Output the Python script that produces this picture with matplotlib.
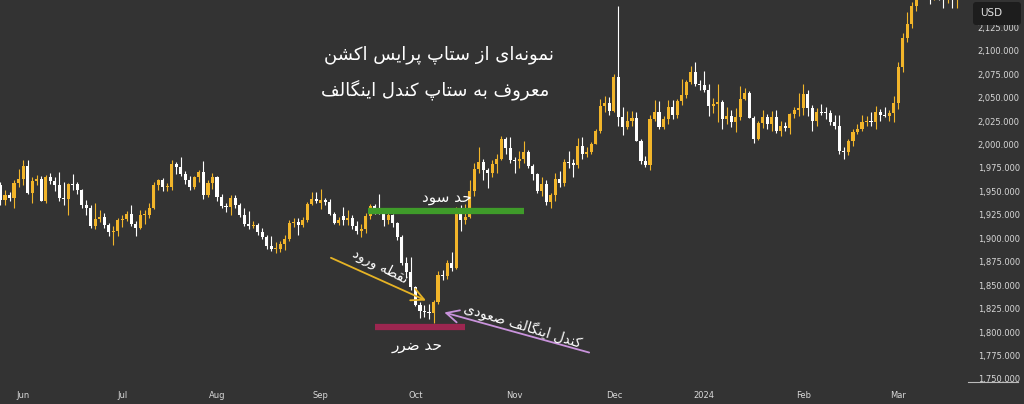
import numpy as np
import pandas as pd
import matplotlib
matplotlib.use('Agg')
import matplotlib.pyplot as plt
from matplotlib.ticker import FuncFormatter
from matplotlib.patches import FancyBboxPatch
from matplotlib.transforms import IdentityTransform
from matplotlib.lines import Line2D

# daily gold candles, 25 May 2023 .. 20 Mar 2024
dates = pd.bdate_range('2023-05-25', '2024-03-20')
dates = dates.drop([pd.Timestamp('2023-12-25'), pd.Timestamp('2024-01-01')])

opens = [
    1957, 1941, 1946, 1943, 1959, 1963, 1977, 1948, 1961, 1963, 1940, 1965, 1961, 1957, 1943, 1942, 1958, 1958, 1951, 1936, 1932, 1913, 1921, 1923, 1914, 1907, 1908,
    1919, 1921, 1926, 1915, 1911, 1925, 1925, 1932, 1957, 1962, 1955, 1955, 1979, 1976, 1969, 1962, 1955, 1965, 1971, 1946, 1959,
    1965, 1944, 1934, 1933, 1943, 1936, 1925, 1915, 1913, 1914, 1907, 1901, 1892, 1889, 1889, 1894, 1899, 1916, 1917, 1914, 1920, 1937, 1942,
    1938, 1941, 1939, 1926, 1916, 1924, 1919, 1922, 1913, 1908, 1910, 1924, 1934, 1931, 1930, 1920, 1925, 1916, 1901, 1874, 1864,
    1848, 1829, 1822, 1821, 1820, 1832, 1861, 1860, 1874, 1868, 1932, 1919, 1923, 1950, 1974, 1981, 1973, 1970, 1979, 1985, 2006, 1996,
    1983, 1982, 1985, 1992, 1977, 1969, 1950, 1958, 1939, 1946, 1963, 1959, 1981, 1980, 1978, 1998, 1990, 1992, 2001, 2014, 2041, 2044,
    2036, 2072, 2029, 2019, 2025, 2028, 2004, 1982, 1978, 2027, 2035, 2019, 2027, 2040, 2031, 2046, 2053, 2067, 2077, 2065,
    2063, 2058, 2041, 2043, 2045, 2027, 2030, 2024, 2029, 2049, 2055, 2028, 2006, 2023, 2029, 2022, 2029, 2014, 2020, 2018, 2032, 2037,
    2039, 2054, 2039, 2025, 2035, 2035, 2034, 2024, 2020, 1993, 1992, 2004, 2013, 2017, 2024, 2025, 2024, 2035, 2031, 2030, 2034,
    2044, 2083, 2114, 2128, 2148, 2160, 2178, 2182, 2158, 2174, 2162, 2155, 2160, 2157,
]
highs = [
    1960, 1952, 1949, 1962, 1974, 1983, 1983, 1965, 1967, 1966, 1967, 1970, 1965, 1971, 1960, 1959, 1969, 1960, 1953, 1941, 1935, 1938, 1930, 1927, 1916, 1913, 1922,
    1925, 1929, 1935, 1918, 1930, 1930, 1938, 1960, 1963, 1964, 1959, 1983, 1981, 1987, 1972, 1966, 1966, 1973, 1982, 1962, 1970,
    1966, 1947, 1938, 1946, 1946, 1938, 1932, 1929, 1918, 1916, 1911, 1904, 1902, 1896, 1897, 1903, 1919, 1922, 1922, 1923, 1939, 1949, 1949,
    1953, 1943, 1942, 1928, 1923, 1933, 1930, 1925, 1918, 1915, 1927, 1937, 1937, 1947, 1932, 1930, 1926, 1917, 1903, 1880, 1880,
    1849, 1832, 1829, 1830, 1834, 1865, 1866, 1877, 1885, 1933, 1935, 1937, 1962, 1980, 1997, 1984, 1975, 1983, 1990, 2009, 2008, 2008,
    1987, 1993, 2004, 1994, 1979, 1970, 1965, 1962, 1948, 1970, 1972, 1985, 1993, 1985, 2007, 2008, 1997, 2003, 2017, 2048, 2052, 2051,
    2075, 2148, 2040, 2036, 2036, 2035, 2006, 1988, 2031, 2047, 2046, 2030, 2047, 2047, 2048, 2070, 2069, 2084, 2088, 2069,
    2078, 2065, 2050, 2064, 2047, 2040, 2037, 2039, 2062, 2060, 2057, 2030, 2025, 2037, 2033, 2036, 2037, 2025, 2024, 2034, 2040, 2055,
    2065, 2058, 2042, 2039, 2043, 2040, 2037, 2031, 2031, 1997, 2006, 2016, 2022, 2031, 2030, 2035, 2041, 2038, 2040, 2037, 2052,
    2088, 2119, 2141, 2152, 2165, 2195, 2189, 2185, 2177, 2175, 2168, 2164, 2163, 2188,
]
lows = [
    1936, 1936, 1940, 1932, 1955, 1957, 1947, 1938, 1957, 1940, 1938, 1958, 1950, 1940, 1936, 1925, 1952, 1947, 1932, 1925, 1911, 1910, 1917, 1911, 1902, 1893, 1902,
    1912, 1918, 1913, 1902, 1910, 1915, 1922, 1931, 1952, 1950, 1950, 1952, 1969, 1966, 1958, 1952, 1953, 1960, 1942, 1944, 1953,
    1940, 1932, 1928, 1925, 1932, 1923, 1913, 1910, 1911, 1903, 1899, 1889, 1886, 1884, 1885, 1888, 1897, 1912, 1904, 1912, 1917, 1935, 1938,
    1931, 1935, 1925, 1915, 1914, 1914, 1914, 1910, 1905, 1901, 1906, 1921, 1926, 1926, 1913, 1915, 1912, 1898, 1871, 1858, 1845,
    1828, 1815, 1816, 1814, 1810, 1830, 1856, 1857, 1865, 1867, 1908, 1915, 1922, 1945, 1970, 1962, 1954, 1965, 1970, 1983, 1990, 1980,
    1970, 1975, 1980, 1975, 1962, 1948, 1945, 1936, 1932, 1940, 1955, 1956, 1975, 1965, 1975, 1985, 1987, 1990, 2000, 2012, 2035, 2031,
    2035, 2020, 2010, 2016, 2020, 2004, 1979, 1976, 1973, 2025, 2017, 2016, 2022, 2027, 2028, 2042, 2050, 2065, 2062, 2058,
    2056, 2030, 2034, 2024, 2017, 2022, 2019, 2013, 2026, 2047, 2028, 2002, 2005, 2018, 2016, 2014, 2012, 2009, 2014, 2011, 2028, 2030,
    2031, 2030, 2014, 2020, 2031, 2027, 2021, 2016, 1990, 1984, 1989, 1998, 2011, 2014, 2020, 2020, 2016, 2025, 2029, 2025, 2024,
    2038, 2077, 2109, 2124, 2142, 2155, 2170, 2150, 2154, 2154, 2146, 2151, 2146, 2146,
]
closes = [
    1941, 1946, 1943, 1959, 1963, 1977, 1948, 1961, 1963, 1940, 1965, 1961, 1957, 1943, 1942, 1958, 1957, 1951, 1936, 1932, 1913, 1921, 1923, 1914, 1907, 1908, 1919,
    1921, 1926, 1915, 1911, 1925, 1925, 1932, 1957, 1962, 1955, 1955, 1979, 1976, 1969, 1962, 1955, 1965, 1971, 1946, 1959, 1965,
    1944, 1934, 1933, 1943, 1936, 1925, 1915, 1913, 1914, 1907, 1901, 1892, 1889, 1889, 1894, 1899, 1916, 1917, 1914, 1920, 1937, 1942, 1940,
    1941, 1939, 1926, 1916, 1919, 1919, 1922, 1913, 1908, 1910, 1924, 1934, 1931, 1930, 1920, 1925, 1916, 1901, 1874, 1864, 1848,
    1829, 1822, 1821, 1820, 1832, 1861, 1860, 1874, 1868, 1932, 1919, 1923, 1950, 1974, 1981, 1973, 1970, 1979, 1985, 2006, 1996, 1983,
    1982, 1985, 1992, 1977, 1969, 1950, 1958, 1939, 1946, 1963, 1959, 1981, 1980, 1978, 1998, 1990, 1992, 2001, 2014, 2041, 2044, 2036,
    2072, 2029, 2019, 2025, 2028, 2004, 1982, 1978, 2027, 2035, 2019, 2027, 2040, 2031, 2046, 2053, 2067, 2077, 2065, 2063,
    2058, 2041, 2043, 2045, 2027, 2030, 2024, 2029, 2049, 2055, 2028, 2006, 2023, 2029, 2022, 2029, 2014, 2020, 2018, 2032, 2037, 2039,
    2054, 2039, 2025, 2035, 2034, 2034, 2024, 2020, 1993, 1992, 2004, 2013, 2017, 2024, 2025, 2024, 2035, 2031, 2030, 2034, 2044,
    2083, 2114, 2128, 2148, 2160, 2178, 2182, 2158, 2174, 2162, 2155, 2160, 2157, 2186,
]

month_labels = ['Jun', 'Jul', 'Aug', 'Sep', 'Oct', 'Nov', 'Dec', '2024', 'Feb', 'Mar']
price_ticks = list(range(1750, 2126, 25))

# setup levels (price, first bar, last bar)
take_profit = (1929, 81.5, 116)
stop_loss = (1805.5, 83, 103)

title_1 = 'نمونه\u200cای از ستاپ پرایس اکشن'
title_2 = 'معروف به ستاپ کندل اینگالف'
tp_text = 'حد سود'
sl_text = 'حد ضرر'
entry_text = 'نقطه ورود'
engulf_text = 'کندل اینگالف صعودی'

BG = '#333333'
UP = '#f2b52a'
DOWN = '#ffffff'
TXT = '#d8d8d8'

# --- tiny persian shaper: matplotlib has no complex text layout ---
FORMS = {
    'ا': (0xFE8D, 0xFE8E), 'د': (0xFEA9, 0xFEAA), 'ر': (0xFEAD, 0xFEAE),
    'ز': (0xFEAF, 0xFEB0), 'و': (0xFEED, 0xFEEE),
    'ب': (0xFE8F, 0xFE90, 0xFE91, 0xFE92), 'پ': (0xFB56, 0xFB57, 0xFB58, 0xFB59),
    'ت': (0xFE95, 0xFE96, 0xFE97, 0xFE98), 'ح': (0xFEA1, 0xFEA2, 0xFEA3, 0xFEA4),
    'س': (0xFEB1, 0xFEB2, 0xFEB3, 0xFEB4), 'ش': (0xFEB5, 0xFEB6, 0xFEB7, 0xFEB8),
    'ص': (0xFEB9, 0xFEBA, 0xFEBB, 0xFEBC), 'ض': (0xFEBD, 0xFEBE, 0xFEBF, 0xFEC0),
    'ط': (0xFEC1, 0xFEC2, 0xFEC3, 0xFEC4), 'ع': (0xFEC9, 0xFECA, 0xFECB, 0xFECC),
    'ف': (0xFED1, 0xFED2, 0xFED3, 0xFED4), 'ق': (0xFED5, 0xFED6, 0xFED7, 0xFED8),
    'ک': (0xFB8E, 0xFB8F, 0xFB90, 0xFB91), 'گ': (0xFB92, 0xFB93, 0xFB94, 0xFB95),
    'ل': (0xFEDD, 0xFEDE, 0xFEDF, 0xFEE0), 'م': (0xFEE1, 0xFEE2, 0xFEE3, 0xFEE4),
    'ن': (0xFEE5, 0xFEE6, 0xFEE7, 0xFEE8), 'ه': (0xFEE9, 0xFEEA, 0xFEEB, 0xFEEC),
    'ی': (0xFBFC, 0xFBFD, 0xFBFE, 0xFBFF),
}

def fa(text):
    out = []
    for k, ch in enumerate(text):
        if ch not in FORMS:
            if ch != '\u200c':
                out.append(ch)
            continue
        f = FORMS[ch]
        prev = text[k - 1] if k > 0 else ''
        nxt = text[k + 1] if k + 1 < len(text) else ''
        j_prev = prev in FORMS and len(FORMS[prev]) == 4
        j_next = len(f) == 4 and nxt in FORMS
        if j_prev and j_next:
            g = f[3]
        elif j_prev:
            g = f[1]
        elif j_next:
            g = f[2]
        else:
            g = f[0]
        out.append(chr(g))
    return ''.join(reversed(out))


o = np.array(opens, float)
h = np.array(highs, float)
l = np.array(lows, float)
c = np.array(closes, float)
x = np.arange(len(dates))
assert len(x) == len(o) == len(h) == len(l) == len(c)

fig = plt.figure(figsize=(10.24, 4.04), dpi=100, facecolor=BG)
ax = fig.add_axes([0, 21 / 404, 968 / 1024, 383 / 404])
ax.set_facecolor(BG)

col = np.where(c >= o, UP, DOWN)
ax.vlines(x, l, h, colors=col, linewidth=0.8, zorder=2)
ax.bar(x, np.maximum(np.abs(c - o), 0.9), bottom=np.minimum(o, c), width=0.68,
       color=col, linewidth=0, zorder=3)

ax.set_xlim(-0.11, 214.5)
ax.set_ylim(1745.7, 2154.05)

# month ticks at first bar of each month
first = [i for i in range(len(dates)) if i == 0 or dates[i].month != dates[i - 1].month][1:]
ax.set_xticks(first)
ax.set_xticklabels(month_labels)
ax.yaxis.tick_right()
ax.set_yticks(price_ticks)
ax.yaxis.set_major_formatter(FuncFormatter(lambda v, p: f'{v:,.3f}'))
ax.tick_params(axis='y', length=0, pad=7, labelsize=6, labelcolor=TXT)
ax.tick_params(axis='x', length=0, pad=6, labelsize=6, labelcolor=TXT)
for s in ax.spines.values():
    s.set_visible(False)

# take profit / stop loss bars
ax.plot([take_profit[1], take_profit[2]], [take_profit[0]] * 2, color='#3f9b2a',
        linewidth=4.5, solid_capstyle='butt', zorder=4)
ax.plot([stop_loss[1], stop_loss[2]], [stop_loss[0]] * 2, color='#9c2650',
        linewidth=4.5, solid_capstyle='butt', zorder=4)

# arrows
ax.annotate('', xy=(94.9, 1832.4), xytext=(72.7, 1880.4),
            arrowprops=dict(arrowstyle='->,head_length=0.9,head_width=0.45',
                            color='#e6b325', lw=1.3), zorder=5)
ax.annotate('', xy=(97.8, 1821.7), xytext=(131.1, 1777.4),
            arrowprops=dict(arrowstyle='->,head_length=0.9,head_width=0.45',
                            color='#c993dc', lw=1.3), zorder=5)

fnt = 'DejaVu Sans'
ax.text(97.3, 2095.4, fa(title_1), color='white', fontsize=13, family=fnt,
        ha='center', va='center', zorder=6)
ax.text(96.3, 2058, fa(title_2), color='white', fontsize=13, family=fnt,
        ha='center', va='center', zorder=6)
ax.text(99, 1944, fa(tp_text), color='white', fontsize=11, family=fnt,
        ha='center', va='center', zorder=6)
ax.text(92.4, 1785.2, fa(sl_text), color='white', fontsize=11, family=fnt,
        ha='center', va='center', zorder=6)
ax.text(84.2, 1870.5, fa(entry_text), color='white', fontsize=10, family=fnt,
        ha='center', va='center', rotation=-27, rotation_mode='anchor', zorder=6)
ax.text(115.9, 1807.6, fa(engulf_text), color='white', fontsize=10, family=fnt,
        ha='center', va='center', rotation=-17, rotation_mode='anchor', zorder=6)

# currency badge and price-scale underline
badge = FancyBboxPatch((973, 379), 48, 23, boxstyle='round,pad=0,rounding_size=3',
                       transform=IdentityTransform(), facecolor='#1d1d1d',
                       edgecolor='none', zorder=10)
fig.add_artist(badge)
fig.text(980 / 1024, (404 - 13.5) / 404, 'USD', color='#e0e0e0', fontsize=7.5,
         ha='left', va='center', zorder=11)
fig.add_artist(Line2D([968 / 1024, 1018 / 1024], [22 / 404, 22 / 404],
                      color='#bbbbbb', linewidth=0.8))

fig.savefig('out.png', dpi=100, facecolor=BG)
